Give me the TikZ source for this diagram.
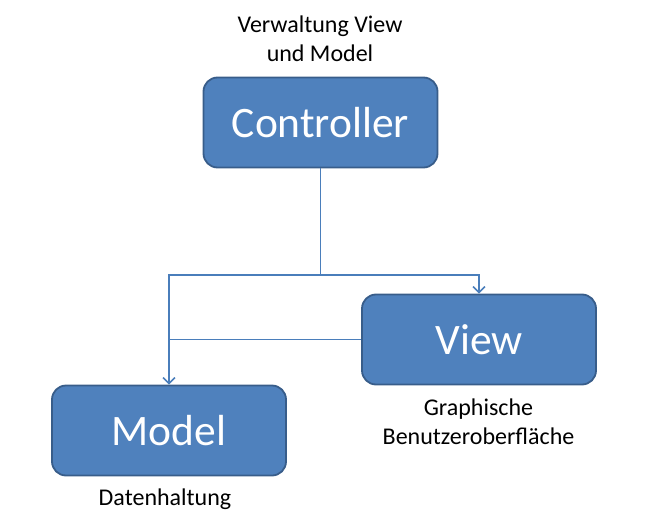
\documentclass[tikz,border=0pt]{standalone}
\usepackage{fontspec}
\setmainfont{Carlito}
\usetikzlibrary{arrows.meta}
\definecolor{boxfill}{HTML}{4F81BD}
\definecolor{boxline}{HTML}{385D8A}
\definecolor{conn}{HTML}{4A7EBB}
\begin{document}
\begin{tikzpicture}[x=1pt,y=-1pt,
  mvcbox/.style={draw=boxline, line width=1.8pt, fill=boxfill, rounded corners=14pt,
    minimum width=234pt, minimum height=90pt, text=white, font=\fontsize{43.5}{50}\selectfont, inner sep=0pt},
  lbl/.style={align=center, font=\fontsize{24}{29}\selectfont, inner sep=0pt},
  connector/.style={draw=conn, line width=1.5pt},
  arr/.style={connector, -{Straight Barb[length=6pt,width=12pt,line width=1.5pt]}}]
\useasboundingbox (0,0) rectangle (658,524);
\node[mvcbox] (ctrl) at (320.5,122.5) {Controller};
\node[mvcbox] (view) at (479,339.5) {View};
\node[mvcbox] (model) at (169,430.5) {Model};
\node[lbl] (ctrllbl) at (320,39) {Verwaltung View\\und Model};
\node[lbl] (viewlbl) at (478.5,422) {Graphische\\Benutzeroberfläche};
\node[lbl] (modellbl) at (165,499) {Datenhaltung};
\coordinate (j) at (320.5,275);
\draw[connector] (ctrl.south) -- (j);
\draw[arr] (j) -| (view.north);
\draw[arr] (j) -| (model.north);
\draw[connector] (view.west) -- (view.west -| model.north);
\end{tikzpicture}
\end{document}
